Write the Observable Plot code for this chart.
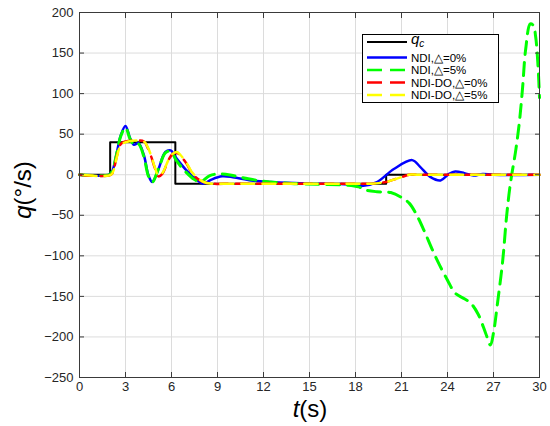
<!DOCTYPE html>
<html><head><meta charset="utf-8">
<script src="https://cdn.jsdelivr.net/npm/d3@7"></script>
<script src="https://cdn.jsdelivr.net/npm/@observablehq/plot@0.6"></script>
<style>
body{margin:0;background:#fff;}
#wrap{position:relative;width:550px;height:426px;}
</style></head><body><div id="wrap"></div>
<script>
// ---- data ----
const xTicks = [0,3,6,9,12,15,18,21,24,27,30];
const yTicks = [-250,-200,-150,-100,-50,0,50,100,150,200];

const qcT = [0,2,2,6.25,6.25,20,20,30];
const qcV = [0,0,40,40,-11,-11,0,0];

const ndi0T = [0,1.95,2.15,2.4,2.7,3.0,3.3,3.55,3.85,4.2,4.5,4.75,5.15,5.6,5.95,6.25,6.9,7.5,8.05,8.6,9.3,10,11.2,12.5,13.5,15.5,17.5,18.4,19.4,20.5,21.7,22.2,22.9,23.55,24.1,24.5,25.1,25.7,26.3,27,30];
const ndi0V = [0,0,5,24,49,60,45,37,39,24,-1,-9,7,28,30,22,7,-4,-11,-6,-2,-3,-7,-9,-10,-11,-12,-14,-9,7,18,10,-3,-7,1,4,2,-1,1,0,0];

const ndi5T = [0,1.95,2.15,2.4,2.7,3.0,3.3,3.55,3.85,4.2,4.5,4.75,5.15,5.6,5.95,6.3,6.9,7.5,7.9,8.5,9.3,10,11,12,14,16,17.5,18.2,18.7,19.4,20.3,21,21.5,22,22.5,23,23.5,24,24.5,25.1,25.5,26,26.5,26.8,27.0,27.25,27.6,27.85,28.1,28.45,28.7,28.9,29.1,29.4,29.6,29.75,29.9,30];
const ndi5V = [0,0,5,24,48,58,44,37,38,22,-2,-9,7,27,29,18,4,-6,-9,-1,1,-1,-5,-8,-11,-12,-13,-15,-19,-21,-22,-28,-35,-50,-70,-92,-112,-130,-146,-153,-158,-172,-196,-210,-195,-160,-106,-52,-11,30,67,108,155,186,184,170,135,95];

const do0T = [0,2.05,2.25,2.45,2.7,3.0,3.5,4.2,4.45,4.7,4.9,5.15,5.4,5.8,6.1,6.35,6.6,7.0,7.3,7.7,8.1,8.6,10,14,18,19,20,20.5,21,21.5,22,30];
const do0V = [0,0,8,24,38,41,42,41,33,21,9,-2,1,18,26,27,23,13,3,-5,-9,-11,-11,-11,-11,-11,-9,-6,-3,0,0,0];

const do5T = [0,2.05,2.25,2.45,2.7,3.0,3.5,4.2,4.45,4.7,4.9,5.15,5.4,5.8,6.1,6.35,6.6,7.0,7.3,7.7,8.1,8.6,10,14,18,19,20,20.5,21,21.5,22,30];
const do5V = [0,0,7,23,37,40,42,41,34,22,10,-1,2,18,26,28,24,14,4,-4,-9,-11,-11,-11,-11,-11,-9,-6,-3,0,0,0];

const seriesNames = ["q_c","NDI,△=0%","NDI,△=5%","NDI-DO,△=0%","NDI-DO,△=5%"];
const seriesColors = ["#000000","#0000ff","#00ff00","#ff0000","#ffff00"];

const toRows = (T,V) => T.map((t,i)=>({t, v:V[i]}));
const qc = toRows(qcT,qcV), ndi0 = toRows(ndi0T,ndi0V), ndi5 = toRows(ndi5T,ndi5V),
      do0 = toRows(do0T,do0V), do5 = toRows(do5T,do5V);

const axisColor = "#3a3a3a";
const dash = "13,8";

const plot = Plot.plot({
  width: 550, height: 426,
  marginLeft: 79, marginRight: 11, marginTop: 12, marginBottom: 49,
  style: {fontFamily: "'Liberation Sans', Arial, Helvetica, sans-serif", fontSize: "13px", color: "#262626", background: "white", overflow: "visible"},
  x: {domain: [0,30]},
  y: {domain: [-250,200]},
  marks: [
    Plot.gridX(xTicks, {stroke: "#dcdcdc", strokeOpacity: 1}),
    Plot.gridY(yTicks, {stroke: "#dcdcdc", strokeOpacity: 1}),
    Plot.line(qc, {x: "t", y: "v", stroke: seriesColors[0], strokeWidth: 2}),
    Plot.line(ndi0, {x: "t", y: "v", stroke: seriesColors[1], strokeWidth: 2.5, curve: "catmull-rom"}),
    Plot.line(ndi5, {x: "t", y: "v", stroke: seriesColors[2], strokeWidth: 3, curve: "catmull-rom", strokeDasharray: dash}),
    Plot.line(do0, {x: "t", y: "v", stroke: seriesColors[3], strokeWidth: 2.5, curve: "catmull-rom", strokeDasharray: dash}),
    Plot.line(do5, {x: "t", y: "v", stroke: seriesColors[4], strokeWidth: 2.5, curve: "catmull-rom", strokeDasharray: dash, strokeDashoffset: -4}),
    Plot.frame({stroke: axisColor, strokeWidth: 1}),
    Plot.axisX(xTicks, {anchor: "bottom", tickSize: -5, tickPadding: 9, stroke: axisColor, label: null, fill: "#262626"}),
    Plot.axisX(xTicks, {anchor: "top", tickSize: -5, tickFormat: () => "", stroke: axisColor, label: null}),
    Plot.axisY(yTicks, {anchor: "left", tickSize: -5, tickPadding: 11, stroke: axisColor, label: null, fill: "#262626"}),
    Plot.axisY(yTicks, {anchor: "right", tickSize: -5, tickFormat: () => "", stroke: axisColor, label: null})
  ]
});

document.getElementById("wrap").appendChild(plot);
const svg = d3.select(plot);
const font = "'Liberation Sans', Arial, Helvetica, sans-serif";

// axis titles
const xl = svg.append("text").attr("x", 310).attr("y", 417).attr("text-anchor", "middle")
  .attr("font-family", font).attr("font-size", 24).attr("fill", "#000");
xl.append("tspan").attr("font-style", "italic").text("t");
xl.append("tspan").text("(s)");

const yl = svg.append("text").attr("transform", "translate(31,190) rotate(-90)").attr("text-anchor", "middle")
  .attr("font-family", font).attr("font-size", 24).attr("fill", "#000");
yl.append("tspan").attr("font-style", "italic").text("q");
yl.append("tspan").text("(°/s)");

// legend
const lg = svg.append("g");
lg.append("rect").attr("x", 362.5).attr("y", 34.5).attr("width", 136).attr("height", 68)
  .attr("fill", "white").attr("stroke", "#000").attr("stroke-width", 1);
const rowsY = [42, 57.5, 70, 82.5, 95];
const lineDash = [null, null, "15,8", "15,8", "15,8"];
seriesNames.forEach((name, i) => {
  lg.append("line").attr("x1", 367).attr("x2", 407).attr("y1", rowsY[i]).attr("y2", rowsY[i])
    .attr("stroke", seriesColors[i]).attr("stroke-width", i === 0 ? 2 : 2.5)
    .attr("stroke-dasharray", lineDash[i]);
  const t = lg.append("text").attr("x", 411).attr("y", rowsY[i]).attr("dy", "0.36em")
    .attr("text-anchor", "start")
    .attr("font-family", font).attr("font-size", 11.5).attr("fill", "#000");
  if (i === 0) {
    t.attr("dy", "0.2em");
    t.append("tspan").attr("font-style", "italic").attr("font-size", 15).text("q");
    t.append("tspan").attr("font-style", "italic").attr("font-size", 10).attr("dy", "3").text("c");
  } else {
    t.text(name);
  }
});
</script>
</body></html>
